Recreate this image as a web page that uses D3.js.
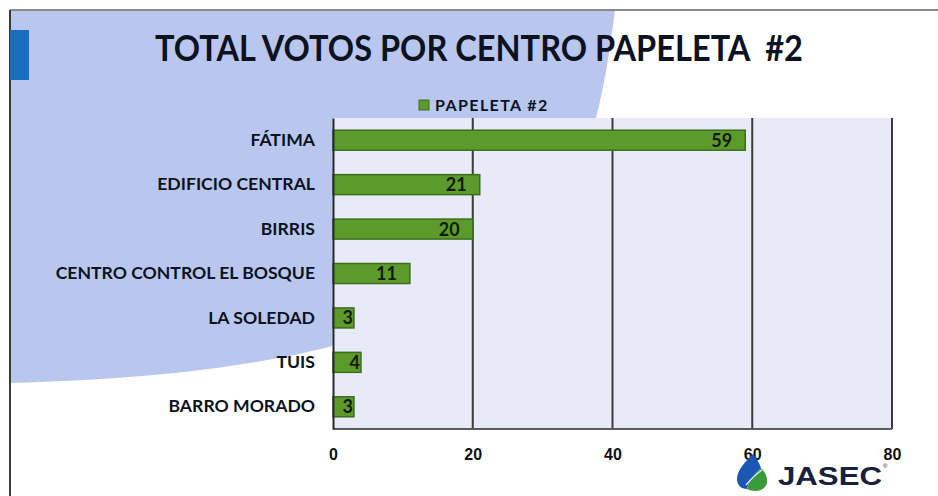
<!DOCTYPE html>
<html>
<head>
<meta charset="utf-8">
<script src="https://cdn.jsdelivr.net/npm/d3@7"></script>
<style>
  html, body { margin: 0; padding: 0; background: #ffffff; }
  #chart-container { width: 938px; height: 496px; }
</style>
</head>
<body>
<div id="chart-container"></div>
<script>
// Chart data
const centros = ["FÁTIMA", "EDIFICIO CENTRAL", "BIRRIS", "CENTRO CONTROL EL BOSQUE", "LA SOLEDAD", "TUIS", "BARRO MORADO"];
const votos = [59, 21, 20, 11, 3, 4, 3];
const xTicks = [0, 20, 40, 60, 80];
const serieNombre = "PAPELETA #2";
const titulo = "TOTAL VOTOS POR CENTRO PAPELETA  #2";

function drawChart() {
  d3.select("#chart-container").selectAll("*").remove();

  const W = 938, H = 496;
  // plot area inside the slide
  const margin = { top: 118, right: 46, bottom: 67, left: 333 };
  const width = W - margin.left - margin.right;
  const height = H - margin.top - margin.bottom;

  const svg = d3.select("#chart-container")
    .append("svg")
    .attr("width", W)
    .attr("height", H);

  // light blue slide background shape
  svg.append("path")
    .attr("d", "M10,10 L615,10 C590,200 560,370 10,383 Z")
    .attr("fill", "#b9c7ee");

  // slide frame
  svg.append("line")
    .attr("x1", 10).attr("y1", 10).attr("x2", W).attr("y2", 10)
    .attr("stroke", "#8a8a8a").attr("stroke-width", 2);
  svg.append("line")
    .attr("x1", 10).attr("y1", 10).attr("x2", 10).attr("y2", H)
    .attr("stroke", "#3a3a3a").attr("stroke-width", 2);

  // blue accent on the left
  svg.append("rect")
    .attr("x", 10).attr("y", 30).attr("width", 19).attr("height", 50)
    .attr("fill", "#1a6cc0");

  // title (keep the double space)
  svg.append("text")
    .attr("x", 479)
    .attr("y", 61)
    .attr("text-anchor", "middle")
    .attr("textLength", 648)
    .attr("lengthAdjust", "spacingAndGlyphs")
    .style("white-space", "pre")
    .style("font-family", "Lato, 'Open Sans', sans-serif")
    .style("font-weight", "bold")
    .style("font-size", "36px")
    .attr("fill", "#0d1220")
    .text(titulo);

  const g = svg.append("g")
    .attr("transform", `translate(${margin.left},${margin.top})`);

  const x = d3.scaleLinear().domain([0, 80]).range([0, 559]);
  const y = d3.scaleBand().domain(centros).range([0, height]).paddingInner(0.55).paddingOuter(0.275);

  // plot background
  g.append("rect")
    .attr("width", x(80))
    .attr("height", height)
    .attr("fill", "#e8eaf8");

  // vertical gridlines
  g.selectAll(".grid")
    .data(xTicks.slice(1))
    .join("line")
    .attr("x1", d => x(d)).attr("x2", d => x(d))
    .attr("y1", 0).attr("y2", height)
    .attr("stroke", "#3a3a3a")
    .attr("stroke-width", 2);

  // bottom border
  g.append("line")
    .attr("x1", 0).attr("x2", x(80))
    .attr("y1", height).attr("y2", height)
    .attr("stroke", "#5a5a5a").attr("stroke-width", 2);

  // bars
  g.selectAll(".bar")
    .data(votos)
    .join("rect")
    .attr("x", 0)
    .attr("y", (d, i) => y(centros[i]))
    .attr("width", d => x(d))
    .attr("height", y.bandwidth())
    .attr("fill", "#5c9a2c")
    .attr("stroke", "#3b6e1c")
    .attr("stroke-width", 1.5);

  // value labels inside the bar end (short bars: hug the end)
  g.selectAll(".val")
    .data(votos)
    .join("text")
    .attr("x", d => (x(d) - 13 < 24) ? x(d) - 1 : x(d) - 13)
    .attr("y", (d, i) => y(centros[i]) + y.bandwidth() / 2)
    .attr("dy", "0.36em")
    .attr("text-anchor", "end")
    .style("font-family", "Lato, sans-serif")
    .style("font-weight", "bold")
    .style("font-size", "18px")
    .attr("fill", "#141a10")
    .text(d => d);

  // y axis
  g.append("g")
    .call(d3.axisLeft(y).tickSize(0).tickPadding(18))
    .call(a => a.select(".domain").attr("stroke", "#2a2a2a").attr("stroke-width", 2))
    .selectAll(".tick text")
    .style("font-family", "Lato, sans-serif")
    .style("font-weight", "bold")
    .style("font-size", "17.6px")
    .attr("fill", "#0d1220");

  // x axis labels
  g.append("g")
    .attr("transform", `translate(0,${height})`)
    .call(d3.axisBottom(x).tickValues(xTicks).tickSize(0).tickPadding(20))
    .call(a => a.select(".domain").remove())
    .selectAll(".tick text")
    .style("font-family", "'Liberation Sans', Arial, sans-serif")
    .style("font-weight", "bold")
    .style("font-size", "16px")
    .attr("fill", "#111111");

  // legend
  const legend = svg.append("g").attr("transform", "translate(419,100)");
  legend.append("rect")
    .attr("width", 10).attr("height", 10)
    .attr("fill", "#5c9a2c")
    .attr("stroke", "#3b6e1c");
  legend.append("text")
    .attr("x", 16).attr("y", 11)
    .style("font-family", "Lato, sans-serif")
    .style("font-weight", "bold")
    .style("font-size", "16px")
    .style("letter-spacing", "1.4px")
    .attr("fill", "#0d1220")
    .text(serieNombre);

  // JASEC logo
  const logo = svg.append("g").attr("transform", "translate(735,452)");
  logo.append("path")
    .attr("d", "M18,2 C10,10 2,18 2,27 C2,33 6,37 12,37 C14,28 20,22 26,16 C24,10 21,6 18,2 Z")
    .attr("fill", "#1d57b5");
  logo.append("path")
    .attr("d", "M26,16 C20,22 14,28 12,37 C20,41 30,39 32,31 C33,25 30,20 26,16 Z")
    .attr("fill", "#3b9a3c");
  logo.append("path")
    .attr("d", "M11,33 C16,27 21,22 27,18")
    .attr("fill", "none")
    .attr("stroke", "#d8e8f0")
    .attr("stroke-width", 1.5);
  svg.append("text")
    .attr("x", 778).attr("y", 485)
    .attr("textLength", 104)
    .attr("lengthAdjust", "spacingAndGlyphs")
    .style("font-family", "'Liberation Sans', Arial, sans-serif")
    .style("font-weight", "bold")
    .style("font-size", "25px")
    .attr("fill", "#16213a")
    .text("JASEC");
  svg.append("text")
    .attr("x", 883).attr("y", 468)
    .style("font-family", "'Liberation Sans', Arial, sans-serif")
    .style("font-size", "6px")
    .attr("fill", "#16213a")
    .text("®");
}

drawChart();
</script>
</body>
</html>
